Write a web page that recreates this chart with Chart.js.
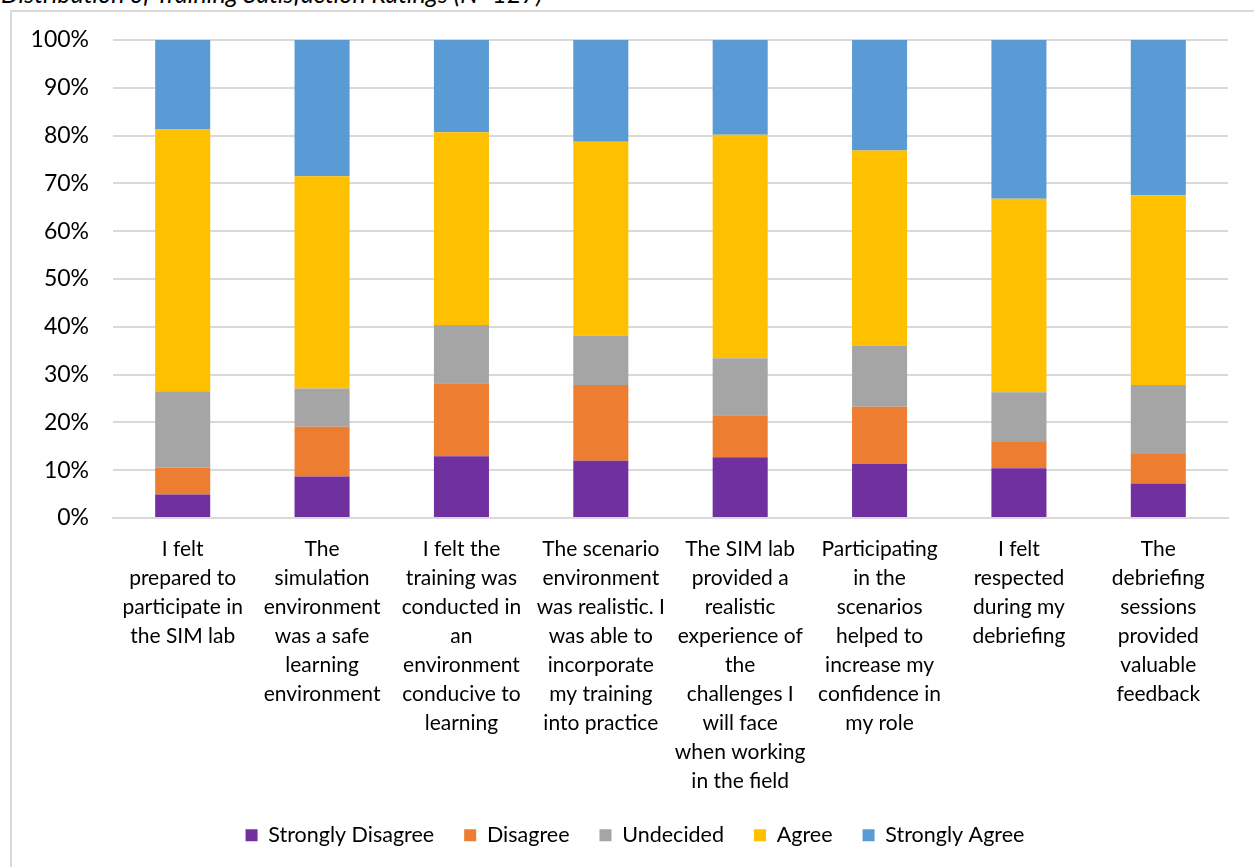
<!DOCTYPE html>
<html>
<head>
<meta charset="utf-8">
<script src="https://cdn.jsdelivr.net/npm/chart.js@4"></script>
<style>
  html, body { margin: 0; padding: 0; background: #fff; overflow: hidden; }
  body { width: 1254px; height: 867px; position: relative; }
  #title {
    position: absolute; left: 1px; top: -19px;
    font: italic 25px Lato, "Open Sans", sans-serif; line-height: 25px;
    color: #000; white-space: nowrap;
  }
  #frame {
    position: absolute; left: 10px; top: 10px; width: 1260px; height: 880px;
    border: 2px solid #d9d9d9; box-sizing: border-box;
  }
  #wrap { position: absolute; left: 12px; top: 12px; width: 1242px; height: 855px; }
</style>
</head>
<body>
<div id="title">Distribution of Training Satisfaction Ratings (N=127)</div>
<div id="frame"></div>
<div id="wrap"><canvas id="myChart" width="1242" height="855"></canvas></div>
<script>
const questions = [
  ["I felt", "prepared to", "participate in", "the SIM lab"],
  ["The", "simulation", "environment", "was a safe", "learning", "environment"],
  ["I felt the", "training was", "conducted in", "an", "environment", "conducive to", "learning"],
  ["The scenario", "environment", "was realistic. I", "was able to", "incorporate", "my training", "into practice"],
  ["The SIM lab", "provided a", "realistic", "experience of", "the", "challenges I", "will face", "when working", "in the field"],
  ["Participating", "in the", "scenarios", "helped to", "increase my", "confidence in", "my role"],
  ["I felt", "respected", "during my", "debriefing"],
  ["The", "debriefing", "sessions", "provided", "valuable", "feedback"]
]

// percent of respondents per rating, one value per question
const stronglyDisagree = [4.9, 8.7, 12.9, 12.0, 12.7, 11.3, 10.4, 7.2]
const disagree         = [5.6, 10.4, 15.3, 15.8, 8.8, 12.0, 5.5, 6.2]
const undecided        = [16.0, 8.0, 12.2, 10.4, 11.9, 12.8, 10.4, 14.4]
const agree            = [54.8, 44.4, 40.3, 40.5, 46.8, 40.8, 40.5, 39.7]
const stronglyAgree    = [18.7, 28.5, 19.3, 21.3, 19.8, 23.1, 33.2, 32.5]

const yTicks = [0, 10, 20, 30, 40, 50, 60, 70, 80, 90, 100]

const font = "Lato, 'Open Sans', sans-serif"

function series(label, data, color) {
  return {
    label: label,
    data: data,
    backgroundColor: color,
    borderWidth: 0,
    barPercentage: 0.395,
    categoryPercentage: 1
  }
}

// the legend row carries a trailing gap, so nudge it back to the middle
const centerLegend = {
  id: "centerLegend",
  afterLayout(chart) {
    const gap = chart.options.plugins.legend.labels.padding / 2
    chart.legend.left += gap
    chart.legend.right += gap
  }
}

new Chart(document.getElementById("myChart").getContext("2d"), {
  type: "bar",
  data: {
    labels: questions,
    datasets: [
      series("Strongly Disagree", stronglyDisagree, "#7030A0"),
      series("Disagree", disagree, "#ED7D31"),
      series("Undecided", undecided, "#A5A5A5"),
      series("Agree", agree, "#FFC000"),
      series("Strongly Agree", stronglyAgree, "#5B9BD5")
    ]
  },
  plugins: [centerLegend],
  options: {
    responsive: false,
    animation: false,
    layout: { padding: { top: 28, right: 26, left: 0, bottom: 11 } },
    plugins: {
      tooltip: { enabled: false },
      legend: {
        position: "bottom",
        labels: {
          boxWidth: 12,
          boxHeight: 12,
          padding: 30,
          color: "#000",
          font: { family: font, size: 21.5 }
        }
      }
    },
    scales: {
      x: {
        stacked: true,
        grid: { display: false },
        border: { display: true, color: "#d9d9d9", width: 2 },
        ticks: {
          color: "#000",
          padding: 9,
          maxRotation: 0,
          autoSkip: false,
          font: { family: font, size: 21, lineHeight: 1.381 }
        },
        afterFit: scale => { scale.height = 276.5 }
      },
      y: {
        stacked: true,
        min: 0,
        max: 100,
        afterBuildTicks: scale => { scale.ticks = yTicks.map(v => ({ value: v })) },
        grid: { color: "#d9d9d9", lineWidth: 2, drawTicks: false },
        border: { display: false },
        ticks: {
          color: "#000",
          padding: 24,
          font: { family: font, size: 23 },
          callback: v => v + "%"
        },
        afterFit: scale => {
          scale.width = 101
          scale.paddingTop = 0
          scale.paddingBottom = 0
        }
      }
    }
  }
})
</script>
</body>
</html>
